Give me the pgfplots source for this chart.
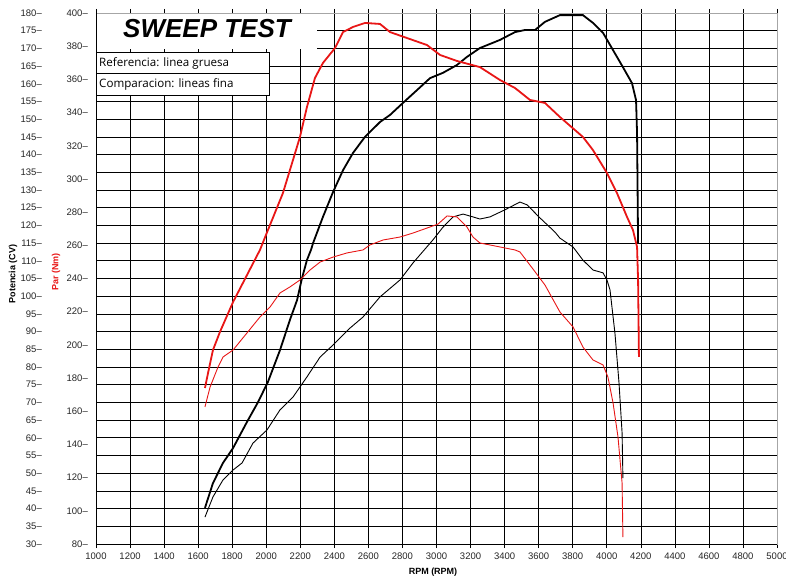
\documentclass[border=0pt]{standalone}
\usepackage{pgfplots}
\pgfplotsset{compat=1.18}
\usepackage{fontspec}
\setmainfont{Liberation Sans}
\newfontfamily\uifont{Open Sans}
\definecolor{dred}{RGB}{232,22,22}
\pgfplotsset{/pgf/number format/assume math mode=true, /pgf/number format/1000 sep={}}

\begin{document}
\begin{tikzpicture}
\useasboundingbox (0,0) rectangle (786pt,578pt);
% ---------- power axis (CV) ----------
\begin{axis}[
  at={(96pt,34pt)}, anchor=south west, scale only axis,
  width=681pt, height=531pt,
  xmin=1000, xmax=5000, ymin=30, ymax=180,
  xtick={1000,1200,...,5000}, ytick={30,35,...,180},
  grid=major, major grid style={black, line width=0.6pt},
  axis line style={black!35, line width=0.9pt},
  tick align=outside, major tick length=4pt,
  ytick style={draw=none}, xtick style={black, line width=0.6pt},
  xticklabel style={font=\fontsize{9.5}{10}\selectfont, text=black!85, yshift=-1pt},
  yticklabel={\pgfmathprintnumber{\tick}--},
  yticklabel style={font=\fontsize{9.5}{10}\selectfont, text=black!85, anchor=east, inner sep=0pt, xshift=-50pt},
]
\addplot[black, line width=1.8pt] coordinates {
(1640,40.2)(1687,47.2)(1746,52.9)(1805,57.1)(1887,64.5)(1952,70.1)(2010,75.8)
(2081,84.8)(2139,93.3)(2181,98.9)(2210,105.1)(2239,110.2)(2263,113.1)(2275,115.0)
(2333,122.4)(2392,129.4)(2451,135.6)(2510,140.5)(2580,145.0)(2668,149.2)(2727,151.2)
(2803,154.6)(2885,158.2)(2962,161.6)(3038,163.1)(3120,165.3)(3179,167.6)(3255,170.1)
(3373,172.4)(3461,174.6)(3520,175.2)(3579,175.2)(3637,177.5)(3725,179.4)(3860,179.4)
(3919,177.2)(3978,174.4)(4037,169.5)(4095,164.7)(4148,160.2)(4172,155.4)(4178,146.1)(4184,115.0)
};
\addplot[black, line width=0.9pt] coordinates {
(1640,37.6)(1687,43.3)(1746,48.1)(1805,50.9)(1858,52.9)(1922,58.5)(2004,62.2)
(2081,67.9)(2157,71.5)(2239,77.2)(2316,82.8)(2392,86.2)(2492,91.0)(2568,94.1)
(2668,99.8)(2786,104.6)(2862,109.4)(2979,115.9)(3038,119.5)(3097,122.4)(3156,123.2)
(3214,122.4)(3255,121.8)(3314,122.4)(3402,124.4)(3490,126.6)(3532,125.8)(3608,122.1)
(3696,118.1)(3725,116.4)(3802,113.9)(3860,110.2)(3919,107.4)(3978,106.6)(4001,104.6)
(4019,101.8)(4048,89.6)(4072,75.5)(4090,61.4)(4095,48.6)
};
\draw[black, line width=0.9pt] (rel axis cs:0,1) -- (rel axis cs:0,0) -- (rel axis cs:1,0);
\end{axis}
% ---------- torque axis (Nm) ----------
\begin{axis}[
  at={(96pt,34pt)}, anchor=south west, scale only axis,
  width=681pt, height=531pt,
  xmin=1000, xmax=5000, ymin=80, ymax=400,
  axis x line=none, axis y line*=left,
  y axis line style={draw=none},
  ytick={80,100,...,400}, ytick style={draw=none},
  yticklabel={\pgfmathprintnumber{\tick}--},
  yticklabel style={font=\fontsize{9.5}{10}\selectfont, text=black!85, anchor=east, inner sep=0pt, xshift=-8pt},
]
\addplot[dred, line width=1.8pt] coordinates {
(1640,174.0)(1658,183.0)(1687,196.9)(1728,207.8)(1805,225.8)(1893,243.3)(1963,257.2)
(2010,269.2)(2098,291.5)(2157,311.4)(2198,325.3)(2239,343.3)(2286,360.8)(2333,369.9)
(2404,378.9)(2451,388.5)(2510,391.6)(2580,394.0)(2668,393.4)(2727,388.5)(2827,384.9)
(2944,380.7)(3021,374.7)(3120,371.1)(3255,367.4)(3373,359.6)(3461,354.8)(3549,347.6)
(3637,345.8)(3725,337.3)(3860,325.3)(3919,317.4)(4001,303.6)(4060,291.5)(4119,277.1)
(4154,269.2)(4178,259.0)(4184,239.1)(4189,192.7)
};
\addplot[dred, line width=0.9pt] coordinates {
(1640,162.6)(1670,174.6)(1717,186.7)(1746,192.7)(1805,196.9)(1887,207.2)(1963,216.8)
(2022,222.8)(2081,231.3)(2139,234.9)(2198,239.1)(2257,245.1)(2316,249.9)(2392,252.9)
(2474,255.4)(2568,257.2)(2609,260.2)(2686,263.2)(2786,265.0)(2862,267.4)(2944,270.4)
(3009,272.8)(3062,277.7)(3120,277.1)(3179,271.0)(3214,265.0)(3255,261.4)(3314,260.2)
(3373,259.0)(3461,257.2)(3490,256.0)(3549,248.1)(3637,236.1)(3725,219.8)(3802,210.8)
(3860,198.7)(3919,190.9)(3978,187.9)(4007,180.6)(4037,165.0)(4066,144.5)(4090,116.8)(4095,84.2)
};
\end{axis}
% ---------- labels ----------
\node[rotate=90, font=\bfseries\fontsize{9}{10}\selectfont] at (13pt,304pt) {Potencia (CV)};
\node[rotate=90, font=\bfseries\fontsize{9}{10}\selectfont, text=dred] at (56pt,306pt) {Par (Nm)};
\node[font=\bfseries\fontsize{9}{10}\selectfont] at (433pt,6pt) {RPM (RPM)};
% ---------- title and legend ----------
\fill[white] (96.5pt,529pt) rectangle (317pt,564.4pt);
\node[font=\bfseries\itshape\fontsize{26}{26}\selectfont] at (207pt,549pt) {SWEEP TEST};
\draw[fill=white, line width=0.7pt] (96pt,483pt) rectangle (269pt,526pt);
\draw[line width=0.7pt] (96pt,504.5pt) -- (269pt,504.5pt);
\node[anchor=west, font=\uifont\fontsize{11.6}{12}\selectfont, inner sep=0pt] at (99pt,515pt) {Referencia: linea gruesa};
\node[anchor=west, font=\uifont\fontsize{11.6}{12}\selectfont, inner sep=0pt] at (99pt,494pt) {Comparacion: lineas fina};
\end{tikzpicture}
\end{document}
